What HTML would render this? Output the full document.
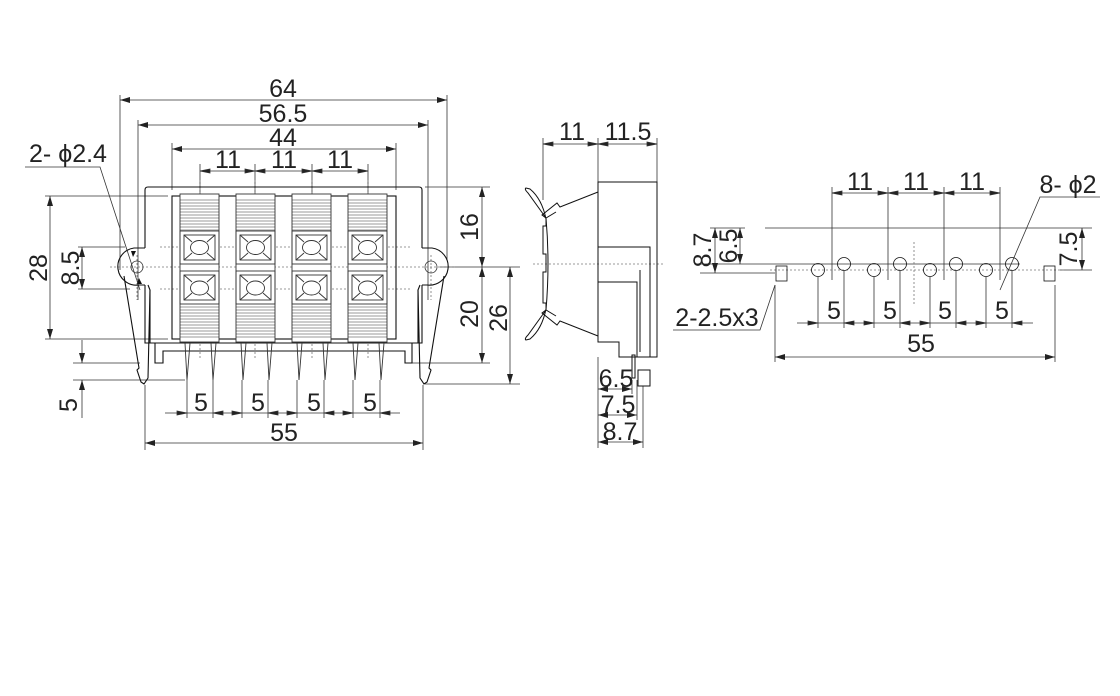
<!DOCTYPE html>
<html><head><meta charset="utf-8"><style>
html,body{margin:0;padding:0;background:#fff}
svg{display:block}
text{font-family:"Liberation Sans",sans-serif;fill:#222}
</style></head><body>
<svg width="1120" height="696" viewBox="0 0 1120 696" xmlns="http://www.w3.org/2000/svg">
<defs>
<marker id="a" viewBox="0 0 10 6" refX="10" refY="3" markerWidth="10" markerHeight="6" orient="auto-start-reverse" markerUnits="userSpaceOnUse"><path d="M0,0L10,3L0,6z" fill="#222"/></marker>
</defs>
<g stroke="#333" stroke-width="0.8" fill="none">
<line x1="120" y1="100" x2="447" y2="100" marker-start="url(#a)" marker-end="url(#a)"/>
<line x1="138" y1="125" x2="428" y2="125" marker-start="url(#a)" marker-end="url(#a)"/>
<line x1="172" y1="149" x2="396" y2="149" marker-start="url(#a)" marker-end="url(#a)"/>
<line x1="200" y1="171" x2="368" y2="171"/>
<path d="M200,171l10,-2v4z M255,171l-10,-2v4z M255,171l10,-2v4z M312,171l-10,-2v4z M312,171l10,-2v4z M368,171l-10,-2v4z" fill="#222"/>
<line x1="120" y1="95" x2="120" y2="270"/>
<line x1="447" y1="95" x2="447" y2="260"/>
<line x1="138" y1="120" x2="138" y2="300"/>
<line x1="428" y1="120" x2="428" y2="300"/>
<line x1="172" y1="143" x2="172" y2="190"/>
<line x1="396" y1="143" x2="396" y2="190"/>
<line x1="200" y1="164" x2="200" y2="196"/><line x1="255" y1="164" x2="255" y2="196"/>
<line x1="312" y1="164" x2="312" y2="196"/><line x1="368" y1="164" x2="368" y2="196"/>
<line x1="45" y1="196" x2="168" y2="196"/><line x1="45" y1="339" x2="168" y2="339"/>
<line x1="50" y1="196" x2="50" y2="339" marker-start="url(#a)" marker-end="url(#a)"/>
<line x1="78" y1="247" x2="125" y2="247"/><line x1="78" y1="289" x2="130" y2="289"/>
<line x1="82" y1="247" x2="82" y2="289" marker-start="url(#a)" marker-end="url(#a)"/>
<line x1="73" y1="363" x2="140" y2="363"/><line x1="73" y1="380" x2="185" y2="380"/>
<line x1="82" y1="340" x2="82" y2="363" marker-end="url(#a)"/>
<line x1="82" y1="418" x2="82" y2="380" marker-end="url(#a)"/>
<line x1="425" y1="187" x2="490" y2="187"/><line x1="440" y1="267" x2="520" y2="267"/>
<line x1="412" y1="363" x2="490" y2="363"/><line x1="425" y1="384" x2="520" y2="384"/>
<line x1="482" y1="187" x2="482" y2="267" marker-start="url(#a)" marker-end="url(#a)"/>
<line x1="482" y1="267" x2="482" y2="363" marker-start="url(#a)" marker-end="url(#a)"/>
<line x1="510" y1="267" x2="510" y2="384" marker-start="url(#a)" marker-end="url(#a)"/>
<line x1="165" y1="413" x2="400" y2="413"/>
<path d="M187,413l-10,-2v4z M213,413l10,-2v4z M242,413l-10,-2v4z M268,413l10,-2v4z M297,413l-10,-2v4z M324,413l10,-2v4z M353,413l-10,-2v4z M380,413l10,-2v4z" fill="#222"/>
<line x1="145" y1="443" x2="423" y2="443" marker-start="url(#a)" marker-end="url(#a)"/>
<line x1="145" y1="385" x2="145" y2="450"/><line x1="423" y1="385" x2="423" y2="450"/>
<g>
<line x1="187" y1="380" x2="187" y2="418"/><line x1="213" y1="380" x2="213" y2="418"/>
<line x1="242" y1="380" x2="242" y2="418"/><line x1="268" y1="380" x2="268" y2="418"/>
<line x1="297" y1="380" x2="297" y2="418"/><line x1="324" y1="380" x2="324" y2="418"/>
<line x1="353" y1="380" x2="353" y2="418"/><line x1="380" y1="380" x2="380" y2="418"/>
</g>
<polyline points="25,167 100,167 140,290"/>
<g stroke-dasharray="2,2" stroke="#777">
<line x1="110" y1="267" x2="455" y2="267"/>
<line x1="160" y1="247" x2="410" y2="247"/>
<line x1="160" y1="289" x2="410" y2="289"/>
<line x1="200" y1="180" x2="200" y2="360"/><line x1="255" y1="180" x2="255" y2="360"/>
<line x1="312" y1="180" x2="312" y2="360"/><line x1="368" y1="180" x2="368" y2="360"/>
<line x1="137" y1="255" x2="137" y2="300"/><line x1="431" y1="255" x2="431" y2="300"/>
</g>
<g stroke="#111" stroke-width="1.1">
<path d="M145,248V190q0,-3 3,-3H419q3,0 3,3V248"/>
<path d="M145,248H134A17,17 0 0 0 139,285H145"/>
<path d="M422,248H432A17,17 0 0 1 427,285H422"/>
<path d="M124,276L139,368l-2,2l4,12l3,2l4,-6L150,290L148,285"/>
<path d="M444,276L429,368l2,2l-4,12l-3,2l-4,-6L418,290L420,285"/>
<path d="M145,285V343H155V363H163V351H405V363H412V343H422V285"/>
<line x1="150" y1="290" x2="150" y2="343"/><line x1="418" y1="290" x2="418" y2="343"/>
<rect x="172" y="196" width="224" height="143"/>
<line x1="155" y1="343" x2="412" y2="343"/>
</g>
<circle cx="137" cy="267" r="6"/><circle cx="431" cy="267" r="6"/>
<path d="M131,251l5,0l-3,6z M137,284l5,0l-3,-6z" fill="#111" stroke="none"/>
</g>
<g id="blk" stroke="#333" stroke-width="0.9" fill="none">
<rect x="180" y="194" width="39" height="148" fill="#fff"/>
<path d="M180,200h39M180,203h39M180,206h39M180,209h39M180,212h39M180,215h39M180,218h39M180,221h39M180,224h39M180,227h39M180,230h39" stroke-width="0.6"/>
<path d="M180,307h39M180,310h39M180,313h39M180,316h39M180,319h39M180,322h39M180,325h39M180,328h39M180,331h39M180,334h39M180,337h39" stroke-width="0.6"/>
<rect x="180" y="231" width="39" height="33"/>
<rect x="184" y="235" width="31" height="25"/>
<ellipse cx="199.5" cy="247.5" rx="9" ry="7"/>
<path d="M184,235l8,7M215,235l-8,7M184,260l8,-7M215,260l-8,-7"/>
<rect x="180" y="271" width="39" height="33"/>
<rect x="184" y="275" width="31" height="25"/>
<ellipse cx="199.5" cy="288" rx="9" ry="7"/>
<path d="M184,275l8,7M215,275l-8,7M184,300l8,-7M215,300l-8,-7"/>
<path d="M185,343l2,37l3,-37M211,343l2,37l3,-37"/>
</g>
<use href="#blk" x="56"/><use href="#blk" x="112"/><use href="#blk" x="168"/>

<g stroke="#333" stroke-width="0.8" fill="none">
<line x1="543" y1="144" x2="657" y2="144"/>
<path d="M543,144l10,-2v4z M598,144l-10,-2v4z M598,144l10,-2v4z M657,144l-10,-2v4z" fill="#222"/>
<line x1="543" y1="138" x2="543" y2="200"/><line x1="598" y1="138" x2="598" y2="182"/><line x1="657" y1="138" x2="657" y2="182"/>
<line x1="598" y1="357" x2="598" y2="448"/>
<line x1="632" y1="380" x2="632" y2="394"/><line x1="637" y1="380" x2="637" y2="420"/><line x1="643" y1="386" x2="643" y2="448"/>
<line x1="598" y1="389" x2="632" y2="389" marker-start="url(#a)" marker-end="url(#a)"/>
<line x1="598" y1="415" x2="637" y2="415" marker-start="url(#a)" marker-end="url(#a)"/>
<line x1="598" y1="442" x2="643" y2="442" marker-start="url(#a)" marker-end="url(#a)"/>
<line x1="533" y1="264" x2="665" y2="264" stroke-dasharray="2,2" stroke="#777"/>
<g stroke="#111" stroke-width="1">
<path d="M598,182H657V357H619V342H598Z"/>
<path d="M598,247H650V357"/><path d="M598,282H637V357"/>
<path d="M640,270V352"/>
<rect x="638" y="370" width="12" height="16"/>
<rect x="632" y="355" width="3" height="23"/>
<path d="M598,192L560,207l-3,-4l-15,12l4,3l10,-6"/>
<path d="M546,218L528,193q-4,-4 -2,-5l4,1q12,10 16,30"/>
<path d="M598,336L560,321l-3,4l-15,-12l4,-3l10,6"/>
<path d="M546,310L528,335q-4,4 -2,5l4,-1q12,-10 16,-30"/>
<path d="M546,218V226H543V254H546V272H543V303H546V310"/>
<path d="M546,218q4,45 0,92"/>
</g>
</g>

<g stroke="#333" stroke-width="0.8" fill="none">
<line x1="832" y1="193" x2="1000" y2="193"/>
<path d="M832,193l10,-2v4z M888,193l-10,-2v4z M888,193l10,-2v4z M944,193l-10,-2v4z M944,193l10,-2v4z M1000,193l-10,-2v4z" fill="#222"/>
<line x1="832" y1="187" x2="832" y2="280"/><line x1="888" y1="187" x2="888" y2="280"/>
<line x1="944" y1="187" x2="944" y2="280"/><line x1="1000" y1="187" x2="1000" y2="280"/>
<line x1="765" y1="228" x2="1092" y2="228"/>
<line x1="700" y1="264" x2="1020" y2="264"/>
<line x1="700" y1="273" x2="775" y2="273"/>
<line x1="1060" y1="270" x2="1092" y2="270"/>
<line x1="710" y1="228" x2="745" y2="228"/>
<line x1="715" y1="228" x2="715" y2="273" marker-start="url(#a)" marker-end="url(#a)"/>
<line x1="740" y1="228" x2="740" y2="264" marker-start="url(#a)" marker-end="url(#a)"/>
<line x1="1082" y1="228" x2="1082" y2="270" marker-start="url(#a)" marker-end="url(#a)"/>
<g stroke-dasharray="2,2" stroke="#777">
<line x1="770" y1="270" x2="1065" y2="270"/>
<line x1="914" y1="242" x2="914" y2="305"/>
</g>
<g stroke="#111">
<circle cx="818" cy="270" r="6.5"/><circle cx="874" cy="270" r="6.5"/><circle cx="930" cy="270" r="6.5"/><circle cx="986" cy="270" r="6.5"/>
<circle cx="844" cy="264" r="6.5"/><circle cx="900" cy="264" r="6.5"/><circle cx="956" cy="264" r="6.5"/><circle cx="1012" cy="264" r="6.5"/>
<rect x="776" y="266" width="11" height="15"/><rect x="1044" y="266" width="11" height="15"/>
</g>
<g>
<line x1="818" y1="277" x2="818" y2="328"/><line x1="844" y1="271" x2="844" y2="328"/>
<line x1="874" y1="277" x2="874" y2="328"/><line x1="900" y1="271" x2="900" y2="328"/>
<line x1="930" y1="277" x2="930" y2="328"/><line x1="956" y1="271" x2="956" y2="328"/>
<line x1="986" y1="277" x2="986" y2="328"/><line x1="1012" y1="271" x2="1012" y2="328"/>
</g>
<line x1="797" y1="323" x2="1033" y2="323"/>
<path d="M818,323l-10,-2v4z M844,323l10,-2v4z M874,323l-10,-2v4z M900,323l10,-2v4z M930,323l-10,-2v4z M956,323l10,-2v4z M986,323l-10,-2v4z M1012,323l10,-2v4z" fill="#222"/>
<line x1="775" y1="285" x2="775" y2="362"/><line x1="1055" y1="285" x2="1055" y2="362"/>
<line x1="775" y1="357" x2="1055" y2="357" marker-start="url(#a)" marker-end="url(#a)"/>
<polyline points="1100,197 1040,197 1000,290"/>
<polyline points="673,330 760,330 775,285"/>
</g>

<g font-size="25" text-anchor="middle">
<text x="283" y="97">64</text>
<text x="283" y="122">56.5</text>
<text x="283" y="146">44</text>
<text x="228" y="168">11</text><text x="284" y="168">11</text><text x="340" y="168">11</text>
<text x="68" y="162">2- ϕ2.4</text>
<text x="201" y="411">5</text><text x="258" y="411">5</text><text x="314" y="411">5</text><text x="370" y="411">5</text>
<text x="284" y="441">55</text>
<text transform="translate(47,268) rotate(-90)">28</text>
<text transform="translate(79,268) rotate(-90)">8.5</text>
<text transform="translate(77,405) rotate(-90)">5</text>
<text transform="translate(478,227) rotate(-90)">16</text>
<text transform="translate(478,314) rotate(-90)">20</text>
<text transform="translate(507,318) rotate(-90)">26</text>
<text x="572" y="140">11</text><text x="628" y="140">11.5</text>
<text x="616" y="387">6.5</text><text x="618" y="413">7.5</text><text x="620" y="440">8.7</text>
<text x="860" y="190">11</text><text x="916" y="190">11</text><text x="972" y="190">11</text>
<text x="1068" y="193">8- ϕ2</text>
<text x="717" y="326">2-2.5x3</text>
<text x="834" y="319">5</text><text x="890" y="319">5</text><text x="945" y="319">5</text><text x="1002" y="319">5</text>
<text x="921" y="352">55</text>
<text transform="translate(711,250) rotate(-90)">8.7</text>
<text transform="translate(737,246) rotate(-90)">6.5</text>
<text transform="translate(1077,249) rotate(-90)">7.5</text>
</g>
</svg>
</body></html>
